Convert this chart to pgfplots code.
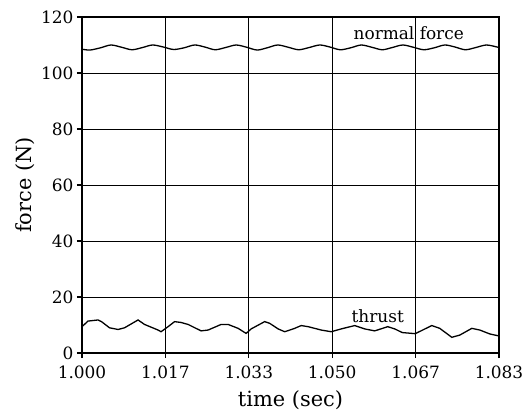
\documentclass[border=0pt]{standalone}
\usepackage{fontspec}
\setmainfont{DejaVu Serif}
\usepackage{pgfplots}
\pgfplotsset{compat=1.18}

\pgfplotstableread{
t       f
1.0000  108.5
1.0016  108.2
1.0037  109.0
1.0058  110.0
1.0079  109.2
1.0100  108.3
1.0121  109.1
1.0141  110.0
1.0162  109.3
1.0183  108.4
1.0204  109.0
1.0225  110.0
1.0245  109.3
1.0266  108.3
1.0287  109.1
1.0308  110.0
1.0329  109.2
1.0350  108.2
1.0370  109.0
1.0391  110.0
1.0412  109.2
1.0433  108.3
1.0454  109.1
1.0475  110.0
1.0495  109.3
1.0516  108.3
1.0537  109.0
1.0558  110.0
1.0579  109.2
1.0600  108.3
1.0620  109.1
1.0641  110.0
1.0662  109.2
1.0683  108.3
1.0704  109.0
1.0725  110.0
1.0745  109.3
1.0766  108.3
1.0787  109.1
1.0808  110.0
1.0829  109.3
1.0833  109.1
}\normalforce

\pgfplotstableread{
t       f
1.0000  9.4
1.0012  11.4
1.0032  11.8
1.0039  11.2
1.0055  9.0
1.0072  8.4
1.0085  9.0
1.0112  11.8
1.0125  10.2
1.0152  8.2
1.0158  7.6
1.0172  9.4
1.0185  11.2
1.0198  10.9
1.0212  10.2
1.0238  7.9
1.0252  8.2
1.0278  10.2
1.0292  10.2
1.0312  8.8
1.0328  7.0
1.0338  8.6
1.0365  11.2
1.0375  10.6
1.0392  8.6
1.0405  7.6
1.0412  8.0
1.0425  8.8
1.0438  9.8
1.0452  9.4
1.0478  8.2
1.0498  7.6
1.0518  8.6
1.0545  9.8
1.0565  8.6
1.0585  7.9
1.0611  9.4
1.0625  8.6
1.0640  7.3
1.0666  6.9
1.0699  9.8
1.0715  8.8
1.0739  5.6
1.0755  6.4
1.0779  8.8
1.0795  8.2
1.0815  6.8
1.0833  6.1
}\thrust

\begin{document}
\begin{tikzpicture}
\useasboundingbox (-82bp,-64bp) rectangle (443bp,353bp);
\begin{axis}[
  scale only axis, width=417bp, height=336bp,
  xmin=1, xmax=1.0833333, ymin=0, ymax=120,
  xtick={1,1.0166667,1.0333333,1.05,1.0666667,1.0833333},
  xticklabels={1.000,1.017,1.033,1.050,1.067,1.083},
  ytick={0,20,...,120},
  minor x tick num=1,
  xtick pos=lower, ytick pos=left,
  grid=major, major grid style={black, line width=0.9bp},
  axis line style={line width=1.6bp},
  tick align=outside, tick style={black, line width=1.2bp},
  major tick length=5bp, minor tick length=3bp,
  tick label style={font=\fontsize{17}{20}\selectfont},
  xticklabel style={yshift=-4bp},
  /pgf/number format/assume math mode=true,
  xlabel={time (sec)}, ylabel={force (N)},
  label style={font=\fontsize{21}{24}\selectfont},
  xlabel style={yshift=-5bp},
]
\addplot[black, line width=1.3bp, smooth] table[x=t, y=f] {\normalforce};
\addplot[black, line width=1.3bp] table[x=t, y=f] {\thrust};
\node[anchor=base, font=\fontsize{17}{20}\selectfont] at (axis cs:1.0653,112.1) {normal force};
\node[anchor=base, font=\fontsize{17}{20}\selectfont] at (axis cs:1.0591,10.8) {thrust};
\end{axis}
\end{tikzpicture}
\end{document}
